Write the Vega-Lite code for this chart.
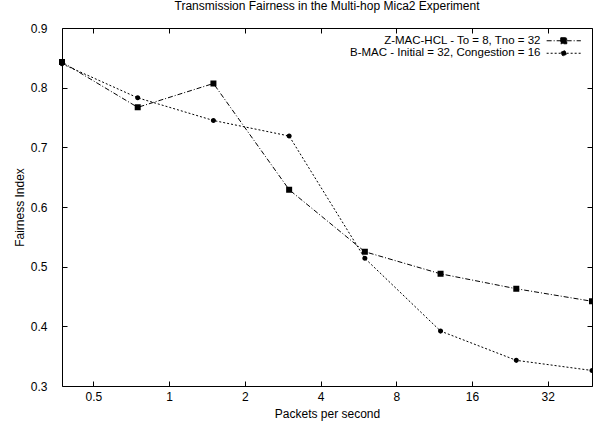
{
  "$schema": "https://vega.github.io/schema/vega-lite/v6.json",
  "width": 530,
  "height": 358,
  "autosize": "none",
  "padding": {"left": 62, "top": 28, "right": 1, "bottom": 40},
  "title": {"text": "Transmission Fairness in the Multi-hop Mica2 Experiment", "fontSize": 12, "fontWeight": "normal", "font": "Liberation Sans", "color": "black", "anchor": "middle", "offset": 9},
  "config": {
    "font": "Liberation Sans",
    "view": {"stroke": "black", "strokeWidth": 1},
    "axis": {"domain": false, "grid": false, "tickColor": "black", "tickSize": -5, "labelFontSize": 12, "labelColor": "black", "titleFontSize": 12, "titleFontWeight": "normal", "titleColor": "black", "labelFont": "Liberation Sans", "titleFont": "Liberation Sans"},
    "legend": {"title": null, "orient": "none", "legendX": 496, "legendY": 7, "padding": 0, "labelAlign": "right", "labelOffset": -29, "labelFontSize": 11.5, "labelColor": "black", "labelLimit": 0, "rowPadding": -0.5, "symbolSize": 36, "symbolStrokeColor": "black", "symbolStrokeWidth": 1, "symbolFillColor": "black"}
  },
  "data": {"values": [
    {"x": 0.375, "y": 0.843, "series": "Z-MAC-HCL - To = 8, Tno = 32"},
    {"x": 0.75, "y": 0.767, "series": "Z-MAC-HCL - To = 8, Tno = 32"},
    {"x": 1.5, "y": 0.807, "series": "Z-MAC-HCL - To = 8, Tno = 32"},
    {"x": 3, "y": 0.629, "series": "Z-MAC-HCL - To = 8, Tno = 32"},
    {"x": 6, "y": 0.525, "series": "Z-MAC-HCL - To = 8, Tno = 32"},
    {"x": 12, "y": 0.488, "series": "Z-MAC-HCL - To = 8, Tno = 32"},
    {"x": 24, "y": 0.463, "series": "Z-MAC-HCL - To = 8, Tno = 32"},
    {"x": 48, "y": 0.442, "series": "Z-MAC-HCL - To = 8, Tno = 32"},
    {"x": 0.375, "y": 0.840, "series": "B-MAC - Initial = 32, Congestion = 16"},
    {"x": 0.75, "y": 0.783, "series": "B-MAC - Initial = 32, Congestion = 16"},
    {"x": 1.5, "y": 0.745, "series": "B-MAC - Initial = 32, Congestion = 16"},
    {"x": 3, "y": 0.719, "series": "B-MAC - Initial = 32, Congestion = 16"},
    {"x": 6, "y": 0.514, "series": "B-MAC - Initial = 32, Congestion = 16"},
    {"x": 12, "y": 0.392, "series": "B-MAC - Initial = 32, Congestion = 16"},
    {"x": 24, "y": 0.343, "series": "B-MAC - Initial = 32, Congestion = 16"},
    {"x": 48, "y": 0.326, "series": "B-MAC - Initial = 32, Congestion = 16"}
  ]},
  "layer": [
    {
      "mark": {"type": "line", "strokeWidth": 1, "color": "black"},
      "encoding": {
        "x": {"field": "x", "type": "quantitative", "scale": {"type": "log", "base": 2, "domain": [0.375, 48], "nice": false}, "axis": {"values": [0.5, 1, 2, 4, 8, 16, 32], "format": "~g", "title": "Packets per second", "labelPadding": 10, "titlePadding": 6}},
        "y": {"field": "y", "type": "quantitative", "scale": {"domain": [0.3, 0.9], "nice": false, "zero": false}, "axis": {"values": [0.3, 0.4, 0.5, 0.6, 0.7, 0.8, 0.9], "format": ".1f", "title": "Fairness Index", "labelPadding": 20, "titlePadding": 4}},
        "strokeDash": {"field": "series", "type": "nominal", "scale": {"domain": ["Z-MAC-HCL - To = 8, Tno = 32", "B-MAC - Initial = 32, Congestion = 16"], "range": [[5, 2, 1, 2], [2, 2]]}, "legend": {"encode": {"symbols": {"update": {"stroke": {"value": "black"}, "strokeWidth": {"value": 1}}}}}}
      }
    },
    {
      "mark": {"type": "point", "filled": true, "color": "black", "size": 36, "opacity": 1},
      "encoding": {
        "x": {"field": "x", "type": "quantitative", "axis": null},
        "y": {"field": "y", "type": "quantitative", "axis": null},
        "shape": {"field": "series", "type": "nominal", "scale": {"domain": ["Z-MAC-HCL - To = 8, Tno = 32", "B-MAC - Initial = 32, Congestion = 16"], "range": ["M-5.7,0H5.7M-1,-1H1V1H-1Z", "M-5.7,0H5.7M-0.85,0A0.85,0.85,0,1,1,0.85,0A0.85,0.85,0,1,1,-0.85,0Z"]}, "legend": {"encode": {"symbols": {"update": {"stroke": {"value": "black"}, "strokeWidth": {"value": 1}}}}}},
        "strokeDash": {"field": "series", "type": "nominal", "legend": {"encode": {"symbols": {"update": {"stroke": {"value": "black"}, "strokeWidth": {"value": 1}}}}}}
      }
    },
    {
      "mark": {"type": "line", "opacity": 0},
      "encoding": {
        "x": {"field": "x", "type": "quantitative", "axis": {"orient": "top", "values": [0.5, 1, 2, 4, 8, 16, 32], "labels": false, "title": null}},
        "y": {"field": "y", "type": "quantitative", "axis": {"orient": "right", "values": [0.3, 0.4, 0.5, 0.6, 0.7, 0.8, 0.9], "labels": false, "title": null}},
        "detail": {"field": "series"}
      }
    }
  ],
  "resolve": {"axis": {"x": "independent", "y": "independent"}}
}
